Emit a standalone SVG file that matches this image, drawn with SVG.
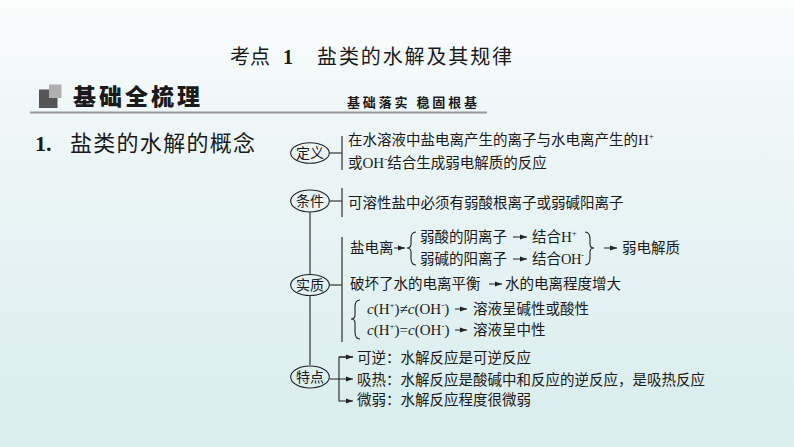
<svg xmlns="http://www.w3.org/2000/svg" width="794" height="447" viewBox="0 0 794 447">
<defs>
<linearGradient id="bg" x1="0" y1="0" x2="0" y2="1">
<stop offset="0" stop-color="#fbfdfd"/>
<stop offset="0.25" stop-color="#f0f7f8"/>
<stop offset="1" stop-color="#d8eded"/>
</linearGradient>
<marker id="ah" markerUnits="userSpaceOnUse" markerWidth="7" markerHeight="6" refX="7" refY="3" orient="auto">
<path d="M0,0.5 L7,3 L0,5.5 z" fill="#222"/>
</marker>
<style>
text{font-family:"Liberation Serif","Noto Sans CJK SC",serif;fill:#1a1a1a;font-size:14.5px}
.lbl{font-size:14px;text-anchor:middle}
.node{fill:none;stroke:#222;stroke-width:1.1}
.ln{fill:none;stroke:#222;stroke-width:1.1}
.bar{fill:none;stroke:#555;stroke-width:1.5}
.arr{fill:none;stroke:#222;stroke-width:1;marker-end:url(#ah)}
.sup{font-size:9px}
.it{font-style:italic}
.lat{font-size:15px}
</style>
</defs>
<rect x="0" y="0" width="794" height="447" fill="url(#bg)"/>

<g id="header">
<text x="230" y="64" style="font-size:20px" textLength="40">考点</text>
<text x="283" y="64" style="font-size:20px;font-weight:bold">1</text>
<text x="317" y="64" style="font-size:20px" textLength="195">盐类的水解及其规律</text>
<rect x="39" y="89.5" width="18.5" height="18.5" fill="#555"/>
<rect x="49" y="84.5" width="12.5" height="13.5" fill="#b0b0b0"/>
<text x="73" y="105" style="font-size:23px;font-weight:900" textLength="127">基础全梳理</text>
<text x="347" y="107" style="font-size:13px;font-weight:bold" textLength="130">基础落实  稳固根基</text>
<line x1="30" y1="112.5" x2="487" y2="112.5" stroke="#999" stroke-width="2"/>
<text x="35" y="151" style="font-size:22px;font-weight:bold">1.</text>
<text x="70" y="151" style="font-size:22px" textLength="185">盐类的水解的概念</text>
</g>

<g id="connectors">
<line class="ln" x1="329.5" y1="153" x2="342" y2="153"/>
<line class="ln" x1="329.5" y1="201" x2="342" y2="201"/>
<line class="ln" x1="310" y1="212" x2="310" y2="274.5"/>
<line class="ln" x1="310" y1="295.5" x2="310" y2="365"/>
<line class="ln" x1="329.5" y1="285" x2="342" y2="285"/>
<line class="arr" x1="329.5" y1="379" x2="353" y2="379"/>
<polyline class="ln" points="353,357 339,357 339,401 353,401" marker-end="url(#ah)"/>
<line class="arr" x1="339" y1="357" x2="353" y2="357"/>
<line class="arr" x1="394" y1="248" x2="405" y2="248"/>
<line class="arr" x1="513" y1="237" x2="527" y2="237"/>
<line class="arr" x1="513" y1="259" x2="527" y2="259"/>
<line class="arr" x1="604" y1="248" x2="617" y2="248"/>
<line class="arr" x1="489" y1="284" x2="502" y2="284"/>
<line class="arr" x1="455" y1="309" x2="467" y2="309"/>
<line class="arr" x1="455" y1="330" x2="467" y2="330"/>
<path class="ln" d="M416,232 Q411,232 411,239 L411,244 Q411,248 407,248 Q411,248 411,252 L411,258 Q411,265 416,265"/>
<path class="ln" d="M585,232 Q590,232 590,239 L590,244 Q590,248 594,248 Q590,248 590,252 L590,258 Q590,265 585,265"/>
<path class="ln" d="M360,300 Q355,300 355,307 L355,315 Q355,319 351,319 Q355,319 355,323 L355,332 Q355,339 360,339"/>
</g>

<g id="node-dingyi">
<ellipse class="node" cx="310" cy="153" rx="19.3" ry="10.3"/>
<text class="lbl" x="310" y="158">定义</text>
<line class="bar" x1="342" y1="136" x2="342" y2="170"/>
<text x="348" y="145">在水溶液中盐电离产生的离子与水电离产生的<tspan class="lat">H</tspan><tspan class="sup" dy="-6">+</tspan></text>
<text x="348" y="168">或<tspan class="lat">OH</tspan><tspan class="sup" dy="-6">-</tspan><tspan dy="6">结合生成弱电解质的反应</tspan></text>
</g>

<g id="node-tiaojian">
<ellipse class="node" cx="310" cy="201" rx="19.3" ry="11"/>
<text class="lbl" x="310" y="206">条件</text>
<line class="bar" x1="342" y1="188" x2="342" y2="217"/>
<text x="348" y="208">可溶性盐中必须有弱酸根离子或弱碱阳离子</text>
</g>

<g id="node-shizhi">
<ellipse class="node" cx="310" cy="285" rx="19.3" ry="10.5"/>
<text class="lbl" x="310" y="290">实质</text>
<line class="bar" x1="342" y1="237" x2="342" y2="342"/>
<text x="350" y="253">盐电离</text>
<text x="420" y="242">弱酸的阴离子</text>
<text x="532" y="242">结合<tspan class="lat">H</tspan><tspan class="sup" dy="-6">+</tspan></text>
<text x="420" y="264">弱碱的阳离子</text>
<text x="532" y="264">结合<tspan style="letter-spacing:-0.5px">OH</tspan><tspan class="sup" dy="-6">-</tspan></text>
<text x="622" y="253">弱电解质</text>
<text x="350" y="289">破坏了水的电离平衡</text>
<text x="505" y="289">水的电离程度增大</text>
<text x="367" y="314" class="lat"><tspan class="it">c</tspan>(H<tspan class="sup" dy="-6">+</tspan><tspan dy="6">)≠</tspan><tspan class="it">c</tspan>(OH<tspan class="sup" dy="-6">-</tspan><tspan dy="6">)</tspan></text>
<text x="473" y="314">溶液呈碱性或酸性</text>
<text x="367" y="335" class="lat"><tspan class="it">c</tspan>(H<tspan class="sup" dy="-6">+</tspan><tspan dy="6">)=</tspan><tspan class="it">c</tspan>(OH<tspan class="sup" dy="-6">-</tspan><tspan dy="6">)</tspan></text>
<text x="473" y="335">溶液呈中性</text>
</g>

<g id="node-tedian">
<ellipse class="node" cx="310" cy="377" rx="19.3" ry="11"/>
<text class="lbl" x="310" y="382">特点</text>
<text x="357" y="363">可逆：水解反应是可逆反应</text>
<text x="357" y="385">吸热：水解反应是酸碱中和反应的逆反应，是吸热反应</text>
<text x="357" y="405">微弱：水解反应程度很微弱</text>
</g>
</svg>
